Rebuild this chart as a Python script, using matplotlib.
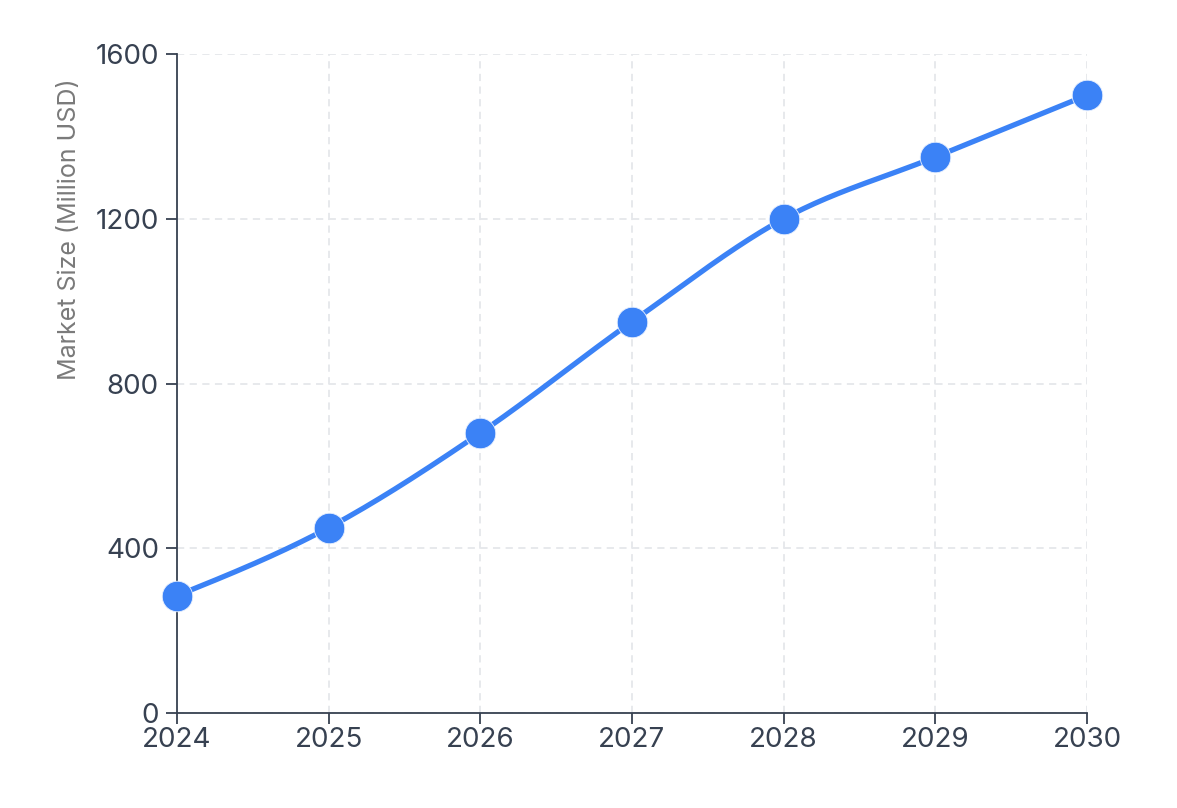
import numpy as np
import matplotlib
matplotlib.use("Agg")
import matplotlib.pyplot as plt

years = [2024, 2025, 2026, 2027, 2028, 2029, 2030]
market_size = [285, 450, 680, 950, 1200, 1350, 1500]
y_ticks = [0, 400, 800, 1200, 1600]
y_label = "Market Size (Million USD)"

LINE = "#3b82f6"
AXIS = "#374151"
GRID = "#e5e7eb"
LABEL = "#7a7a7a"

plt.rcParams['font.family'] = ['Inter', 'DejaVu Sans']


def monotone_x(x, y, n=40):
    """d3 curveMonotoneX rendering of a polyline through the given points."""
    x = np.asarray(x, float)
    y = np.asarray(y, float)
    k = len(x)
    h = np.diff(x)
    s = np.diff(y) / h
    t = np.zeros(k)
    for i in range(1, k - 1):
        h0, h1 = h[i - 1], h[i]
        s0, s1 = s[i - 1], s[i]
        p = (s0 * h1 + s1 * h0) / (h0 + h1)
        t[i] = (np.sign(s0) + np.sign(s1)) * min(abs(s0), abs(s1), 0.5 * abs(p))
    t[0] = (3 * s[0] - t[1]) / 2
    t[-1] = (3 * s[-1] - t[-2]) / 2
    xs, ys = [], []
    for i in range(k - 1):
        u = np.linspace(0, 1, n)
        dx = h[i]
        h00 = 2 * u**3 - 3 * u**2 + 1
        h10 = u**3 - 2 * u**2 + u
        h01 = -2 * u**3 + 3 * u**2
        h11 = u**3 - u**2
        xs.append(x[i] + u * dx)
        ys.append(h00 * y[i] + h10 * dx * t[i] + h01 * y[i + 1] + h11 * dx * t[i + 1])
    return np.concatenate(xs), np.concatenate(ys)


fig = plt.figure(figsize=(11.77, 8.08), dpi=100)
ax = fig.add_axes([177 / 1177, (808 - 713) / 808, 910 / 1177, 659 / 808])

cx, cy = monotone_x(years, market_size)
ax.plot(cx, cy, color=LINE, lw=3.8, solid_capstyle='round', zorder=3)
ax.plot(years, market_size, 'o', color=LINE, ms=22, mec='#e8f0fe', mew=0.6, zorder=4, clip_on=False)

ax.set_xlim(years[0], years[-1])
ax.set_ylim(y_ticks[0], y_ticks[-1])
ax.set_xticks(years)
ax.set_xticklabels([str(y) for y in years])
ax.set_yticks(y_ticks)

ax.grid(True, color=GRID, linestyle=(0, (4, 3)), linewidth=1.3, zorder=0)
ax.set_axisbelow(True)

for side in ['top', 'right']:
    ax.spines[side].set_visible(False)
for side in ['left', 'bottom']:
    ax.spines[side].set_color(AXIS)
    ax.spines[side].set_linewidth(1.3)

ax.tick_params(axis='both', colors=AXIS, labelcolor=AXIS, labelsize=20, length=8, width=1.3)
ax.tick_params(axis='y', pad=5)
ax.tick_params(axis='x', pad=2)

ax.set_ylabel(y_label, color=LABEL, fontsize=18)
ax.yaxis.set_label_coords(-0.105, 0.734)

fig.savefig("out.png", dpi=100, facecolor="white")
